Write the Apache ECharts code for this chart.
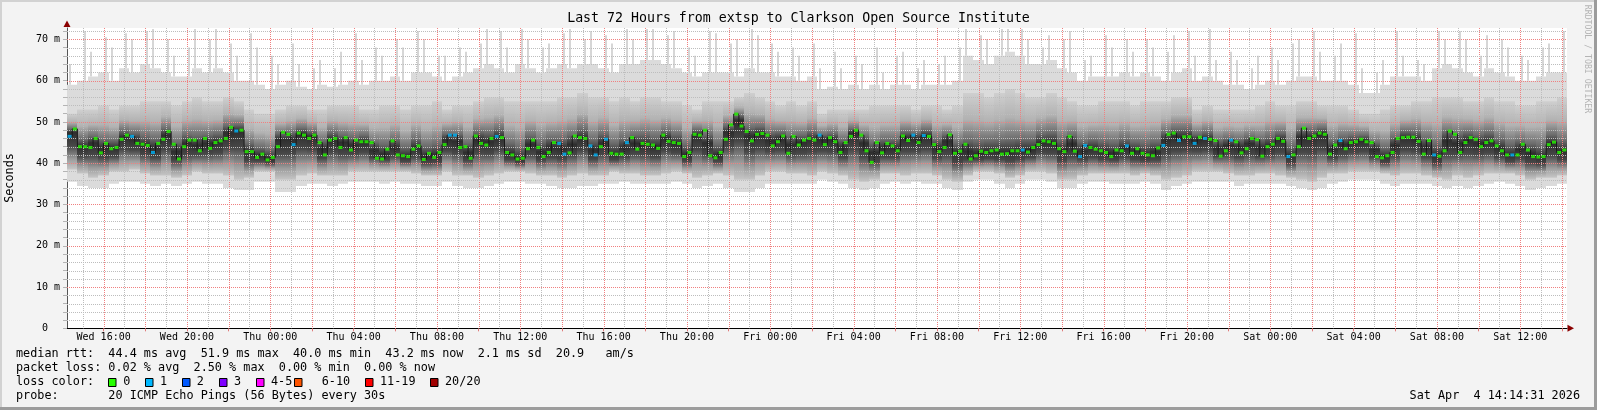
<!DOCTYPE html>
<html><head><meta charset="utf-8">
<script src="https://cdn.jsdelivr.net/npm/echarts@6/dist/echarts.min.js"></script>
<style>html,body{margin:0;padding:0;background:#f3f3f3}#c{width:1597px;height:410px}</style>
</head><body><div id="c"></div>
<script>
// ---------------- data ----------------
// time axis: hours since Wed 00:00; graph covers Wed 14:14:31 .. Sat 14:14:31
const START_H = 14 + 14 / 60 + 31 / 3600;
const SPAN_H = 72;
const SMOKE_STEP_H = 0.5;   // one smoke column per 30 min
const MEDIAN_STEP_H = 0.25; // one median sample per 15 min

const xLabelHours = [16, 20, 24, 28, 32, 36, 40, 44, 48, 52, 56, 60, 64, 68, 72, 76, 80, 84];
const xLabelText = ['Wed 16:00', 'Wed 20:00', 'Thu 00:00', 'Thu 04:00', 'Thu 08:00', 'Thu 12:00',
  'Thu 16:00', 'Thu 20:00', 'Fri 00:00', 'Fri 04:00', 'Fri 08:00', 'Fri 12:00',
  'Fri 16:00', 'Fri 20:00', 'Sat 00:00', 'Sat 04:00', 'Sat 08:00', 'Sat 12:00'];
const yLabelValues = [0, 10, 20, 30, 40, 50, 60, 70];

// median rtt (ms), 288 samples
const medianRtt = [
  46.5, 48.3, 44, 44, 43.8, 46, 42.5, 44.8, 43.5, 43.8,
  45.8, 46.8, 46.5, 44.8, 44.6, 44.3, 42.6, 44.8, 45.8, 47.7,
  44.6, 41, 44, 45.6, 45.6, 43, 46, 43.6, 45, 45.4,
  46, 48.7, 47.8, 48, 42.8, 42.8, 41.4, 42.2, 40.8, 41.4,
  44, 47.5, 47, 44.5, 47.3, 46.8, 46, 46.8, 45, 42,
  45.6, 46, 43.8, 46.2, 43.2, 45.6, 45.2, 45.2, 45, 41.2,
  41, 43.4, 45.4, 42, 41.8, 41.6, 43.4, 44.2, 40.9, 42.4,
  41.4, 42.6,
  44.5, 46.8, 46.8, 43.8, 44, 41.2, 46.6, 44.8, 44.4, 46,
  46.5, 46.2, 42.6, 42, 41, 41.2, 43.5, 45.6, 43.8, 41.6,
  42.6, 45, 44.8, 42.2, 42.5, 46.6, 46.2, 46, 44.2, 42,
  44, 45.8, 42.4, 42.2, 42.2, 45, 46.2, 43.4, 44.8, 44.6,
  44.4, 43.6, 46.8, 45.3, 45, 44.8, 41.6, 42.6, 47, 46.8,
  48, 41.8, 41.3, 42.6, 45.8, 49.3, 51.9, 49, 47.7, 45.4,
  47, 47.2, 46.8, 44.2, 45.2, 46.6, 42.4, 46.5, 44.4, 45.6,
  46, 45.6,
  46.8, 44.5, 46.2, 45.2, 42.6, 45, 46.5, 48, 46.8, 43,
  40.2, 45, 42.5, 44.8, 44.2, 43, 46.6, 45.5, 46.8, 45,
  46.7, 46.5, 44.5, 42.8, 43.8, 46.9, 42.4, 42.9, 44.6, 41,
  41.8, 42.9, 42.6, 43, 43.2, 42.2, 42.3, 43, 43, 43.2,
  42.7, 43.8, 44.5, 45.4, 45.2, 44.8, 43.5, 42.8, 46.5, 42.9,
  41.6, 44.3, 43.8, 43.4, 43, 42.6, 41.6, 43.2, 43, 44.2,
  42.4, 43.5, 42.4, 42, 41.8, 43.7, 44.3, 47, 47.3, 45.5,
  46.4, 46.4,
  44.8, 46.3, 46, 45.8, 45.5, 41.7, 43, 45.6, 45.2, 42.5,
  43.5, 46, 45.7, 41.7, 44, 44.6, 46, 45.3, 41.6, 42,
  44, 48.5, 46, 46.6, 47.3, 47, 42.2, 44.4, 45.5, 43.5,
  45, 45.2, 45.8, 45.2, 45, 41.6, 41.3, 41.8, 42.6, 46,
  46.2, 46.3, 46.3, 45.3, 42.2, 45.5, 42, 41.7, 43, 47.8,
  47, 42.6, 45, 46.2, 45.8, 44, 45, 45.4, 44.2, 43,
  42, 42, 42, 44.6, 43.2, 41.6, 41.5, 41.6, 44.5, 45.1,
  42.6, 43.2
];
// median samples that had 1 lost ping (all others: 0)
const lossSamples = [0, 12, 16, 32, 43, 73, 74, 82, 94, 95, 100, 101, 103, 107, 144, 162, 164,
  183, 194, 195, 203, 210, 213, 216, 218, 223, 234, 244, 262, 277];

// smoke per 30-min column (ms), 144 columns
const pingMax = [
  64, 72, 67, 70.5, 68, 71.5, 70, 72, 72.5, 70, 66, 68, 72.5, 70, 72.5, 69, 66, 71.5, 68, 66, 64, 69, 64, 63, 65, 63, 67, 71.5, 65, 68, 66, 70, 68, 72, 70, 66,
  66, 68, 67, 69, 72.5, 72, 68, 72.5, 70, 68, 69, 71.5, 72.5, 70, 72, 71, 69, 72.5, 70, 72.5, 72.5, 71, 72, 68, 66, 72, 71.5, 69, 70, 72.5, 71, 69, 67, 68, 66, 69,
  63, 67, 63, 66, 64, 68, 62, 66, 67, 63, 65, 64, 66, 68, 72.5, 71, 70, 72.5, 72.5, 72.5, 70, 68, 71, 70, 72, 65, 66, 71, 68, 70, 67, 70, 68, 67, 71, 72,
  66, 72.5, 65, 67, 65, 63, 66, 68, 65, 69, 70, 72, 67, 66, 69, 71.5, 63, 62, 65, 72, 66, 65, 64, 72, 70, 72, 70, 66, 71, 70, 68, 66, 65, 68, 69, 72
];
const smokeTop = [
  59, 60, 61, 62, 60, 63, 62, 64, 63, 62, 61, 61, 63, 62, 63, 62, 60, 60, 59, 58, 59, 60, 58.5, 58, 59, 58.5, 59, 60, 59, 60, 60, 61, 60, 62, 62, 61,
  60, 61, 62, 63, 64, 63, 62, 64, 63, 62, 63, 64, 63, 64, 64, 63, 62, 64, 64, 65, 65, 64, 63, 62, 61, 62, 62, 62, 61, 63, 62, 62, 61, 61, 60, 61,
  58, 58.5, 58, 59, 58, 59, 58, 59, 59, 58, 59, 59, 59, 60, 66, 65, 64, 66, 67, 66, 64, 64, 65, 63, 62, 60, 61, 61, 61, 62, 61, 62, 61, 60, 62, 63,
  60, 61, 60, 59, 59, 58, 59, 60, 59, 60, 61, 61, 60, 60, 60, 59, 57, 57, 59, 61, 61, 61, 60, 63, 64, 63, 62, 61, 63, 62, 61, 60, 60, 61, 62, 62
];
const smokeUpper = [
  52, 53, 53, 54, 53, 54, 54, 55, 55, 55, 54, 55, 56, 55, 55, 56, 55, 53, 52, 52, 53, 54, 54, 53, 53, 54, 54, 54, 53, 53, 54, 54, 53, 54, 54, 55,
  53, 54, 54, 55, 56, 56, 55, 55, 55, 55, 55, 56, 56, 57, 56, 56, 55, 56, 55, 56, 56, 55, 55, 54, 53, 55, 55, 55, 56, 57, 56, 55, 54, 55, 54, 55,
  52, 53, 53, 53, 53, 54, 54, 54, 54, 53, 54, 54, 53, 54, 57, 57, 56, 57, 58, 57, 56, 56, 57, 56, 55, 54, 54, 55, 55, 55, 54, 55, 55, 55, 56, 56,
  53, 54, 53, 53, 53, 53, 54, 55, 54, 54, 55, 55, 54, 54, 54, 53, 52, 52, 53, 54, 54, 55, 55, 56, 56, 56, 55, 55, 56, 55, 55, 54, 54, 55, 55, 56
];
const smokeLower = [
  38.5, 37.5, 36.5, 37, 38, 38, 38.5, 37.5, 37, 37, 36.5, 37, 38, 37.5, 37.5, 37, 36, 36.5, 38, 38, 36, 36, 37, 37.5, 37, 37, 37, 38, 38, 38, 38, 38, 38, 37.5, 37, 37,
  38, 37, 37, 36.5, 37, 37.5, 38, 38, 37.5, 37, 37, 36.5, 37, 37.5, 37, 37, 38, 37.5, 37.5, 37, 37, 37.5, 38, 37.5, 36.5, 37, 37.5, 37, 36, 36, 37, 38, 38, 37.5, 37.5, 37,
  38, 37.5, 37, 36, 35.5, 36, 37.5, 37.5, 37, 37.5, 37.5, 37, 36, 35.5, 37, 38, 38, 37.5, 36.5, 37, 38, 38, 37.5, 36, 36, 37, 37.5, 37.5, 37.5, 37.5, 37, 37.5, 37, 36, 36.5, 37,
  38, 38, 38, 37.5, 37, 37, 37.5, 37.5, 37, 36.5, 36, 35.5, 36.5, 37.5, 37.5, 38, 38, 38, 37.5, 37, 37.5, 37.5, 37, 36.5, 36, 37, 36.5, 37, 37.5, 37.5, 37.5, 37, 36, 36.5, 36.5, 37
];
const pingMin = [
  35.5, 34.5, 34, 34, 35, 35.5, 35.5, 35, 34.5, 35, 34.5, 35, 35.5, 35, 35, 34, 33.5, 33.5, 35.5, 35.5, 33, 33, 34.5, 35, 35, 34.5, 35, 35.5, 35.5, 35.5, 35, 35.5, 35, 35, 34.5, 34.5,
  35.5, 34.5, 34, 34, 34.5, 35, 35.5, 35.5, 35, 35, 34.5, 34, 34, 34.5, 34.5, 35, 35, 35.5, 35, 35, 35, 35, 35.5, 35, 34, 34.5, 35, 34, 33, 33, 34, 35, 35, 35, 35, 35,
  36, 35.5, 35, 34, 33.5, 34, 35, 35.5, 35, 35.5, 35, 35, 34, 33.5, 35.5, 36, 36, 35, 34, 35, 36, 36, 35.5, 34, 34, 35, 35.5, 35.5, 35, 35, 35, 35.5, 35, 33.5, 34.5, 35,
  35.5, 35.5, 35.5, 35.5, 34.5, 35, 35, 35, 35, 34.5, 34, 33.5, 34, 35, 35.5, 36, 36, 36, 35, 34.5, 35, 35, 35, 34.5, 34, 34.5, 34, 34.5, 35, 35.5, 35, 34.5, 33.5, 34, 34.5, 35
];

const legendLossLabels = ['0', '1', '2', '3', '4-5', '6-10', '11-19', '20/20'];
const lossColors = ['#26ff00', '#00b8ff', '#0059ff', '#7e00ff', '#ff00ff', '#ff5500', '#ff0000', '#a10000'];

const statLines = [
  'median rtt:  44.4 ms avg  51.9 ms max  40.0 ms min  43.2 ms now  2.1 ms sd  20.9   am/s',
  'packet loss: 0.02 % avg  2.50 % max  0.00 % min  0.00 % now',
  'loss color:',
  'probe:       20 ICMP Echo Pings (56 Bytes) every 30s'
];
const titleText = 'Last 72 Hours from extsp to Clarkson Open Source Institute';
const dateText = 'Sat Apr  4 14:14:31 2026';

// ---------------- chart ----------------
const END_H = START_H + SPAN_H;
const MONO = "'DejaVu Sans Mono', monospace";
const chart = echarts.init(document.getElementById('c'), null, { renderer: 'canvas', width: 1597, height: 410 });

const smokeData = pingMax.map((mx, i) => [
  START_H + i * SMOKE_STEP_H, START_H + (i + 1) * SMOKE_STEP_H,
  mx, smokeTop[i], smokeUpper[i], smokeLower[i], pingMin[i],
  (medianRtt[2 * i] + medianRtt[2 * i + 1]) / 2, i
]);
const medData = medianRtt.map((v, i) => [START_H + (i + 0.5) * MEDIAN_STEP_H, v, lossSamples.indexOf(i) >= 0 ? 1 : 0]);

function renderSmoke(params, api) {
  const t0 = api.value(0), t1 = api.value(1);
  const x0 = Math.round(api.coord([t0, 0])[0]);
  const x1 = Math.round(api.coord([t1, 0])[0]);
  const y = v => api.coord([t0, v])[1];
  const yMax = y(api.value(2)), yTop = y(api.value(3)), yUp = y(api.value(4));
  const yDn = y(api.value(5)), yBot = y(api.value(6)), yMed = y(api.value(7));
  let f = (yMed - yUp) / (yDn - yUp);
  f = Math.min(0.9, Math.max(0.1, f));
  const grad = new echarts.graphic.LinearGradient(0, 0, 0, 1, [
    { offset: 0, color: '#cfcfcf' },
    { offset: f * 0.45, color: '#b2b2b2' },
    { offset: f * 0.8, color: '#6c6c6c' },
    { offset: f, color: '#2e2e2e' },
    { offset: f + (1 - f) * 0.35, color: '#474747' },
    { offset: f + (1 - f) * 0.72, color: '#9c9c9c' },
    { offset: 1, color: '#c6c6c6' }
  ]);
  // spike sits alternately in the left / right part of its column
  const idx = api.value(8);
  const xs = idx % 2 === 0 ? x0 + 2 : x1 - 4;
  return {
    type: 'group',
    children: [
      { type: 'rect', shape: { x: xs, y: yMax, width: 2, height: yTop - yMax }, style: { fill: '#d6d6d6' } },
      { type: 'rect', shape: { x: x0, y: yTop, width: x1 - x0, height: yBot - yTop }, style: { fill: '#dbdbdb' } },
      { type: 'rect', shape: { x: x0, y: yUp, width: x1 - x0, height: yDn - yUp }, style: { fill: grad } }
    ]
  };
}

// grid lines, drawn crisp and dotted over the smoke (as rrdtool does)
const MAJOR = '#f08080', MINOR = '#bdbdbd';
const vGridHours = [];
for (let h = Math.ceil(START_H); h <= END_H; h++) vGridHours.push([h, 0]);
const hGridValues = [];
for (let v = 2; v <= 72; v += 2) hGridValues.push([START_H, v]);

function renderVGrid(params, api) {
  const cs = params.coordSys;
  const h = api.value(0);
  const x = Math.round(api.coord([h, 0])[0]) + 0.5;
  return { type: 'line', shape: { x1: x, y1: cs.y, x2: x, y2: cs.y + cs.height },
    style: { stroke: h % 2 === 0 ? MAJOR : MINOR, lineWidth: 1, lineDash: [1, 1] } };
}
function renderHGrid(params, api) {
  const cs = params.coordSys;
  const v = api.value(1);
  const y = Math.round(api.coord([START_H, v])[1]) + 0.5;
  return { type: 'line', shape: { x1: cs.x, y1: y, x2: cs.x + cs.width, y2: y },
    style: { stroke: v % 10 === 0 ? MAJOR : MINOR, lineWidth: 1, lineDash: [1, 1] } };
}

const evenHours = [];
for (let h = Math.ceil(START_H); h <= END_H; h++) if (h % 2 === 0) evenHours.push(h);
const yTickVals = [];
for (let v = 0; v <= 72; v += 2) yTickVals.push(v);

const TXT = '11.8px ' + MONO;
const textStyle = (x, y, text, extra) => ({
  type: 'text', x: x, y: y, silent: true,
  style: Object.assign({ text: text, font: TXT, fill: '#000', align: 'left', verticalAlign: 'middle' }, extra || {})
});

const graphics = [
  { type: 'rect', shape: { x: 0, y: 0, width: 1597, height: 2 }, style: { fill: '#d2d2d2' }, silent: true },
  { type: 'rect', shape: { x: 0, y: 0, width: 2, height: 410 }, style: { fill: '#d2d2d2' }, silent: true },
  { type: 'rect', shape: { x: 0, y: 407, width: 1597, height: 3 }, style: { fill: '#9c9c9c' }, silent: true },
  { type: 'rect', shape: { x: 1594, y: 0, width: 3, height: 410 }, style: { fill: '#9c9c9c' }, silent: true },
  { type: 'polygon', shape: { points: [[63.5, 27], [70.5, 27], [67, 20.5]] }, style: { fill: '#8b0000' }, silent: true },
  { type: 'polygon', shape: { points: [[1567.5, 324.8], [1567.5, 331.8], [1574, 328.3]] }, style: { fill: '#8b0000' }, silent: true },
  textStyle(798.5, 19, titleText, { font: '13.25px ' + MONO, align: 'center' }),
  Object.assign(textStyle(10, 178, 'Seconds', { align: 'center' }), { rotation: Math.PI / 2 }),
  Object.assign(textStyle(1587, 59, 'RRDTOOL / TOBI OETIKER', { align: 'center', font: '8.2px ' + MONO, fill: '#b4b4b4' }), { rotation: -Math.PI / 2 }),
  textStyle(16, 354, statLines[0]),
  textStyle(16, 368.3, statLines[1]),
  textStyle(16, 382, statLines[2]),
  textStyle(16, 396, statLines[3]),
  textStyle(1580, 396, dateText, { align: 'right' })
];
const boxX = [108.3, 145, 182.3, 219.3, 256, 294.3, 365.3, 430];
const labX = [123.3, 160, 196.7, 234, 271, 321.7, 380, 445];
legendLossLabels.forEach((lab, i) => {
  graphics.push({ type: 'rect', silent: true, shape: { x: Math.round(boxX[i]) + 0.5, y: 378.5, width: 7.5, height: 8 }, style: { fill: lossColors[i], stroke: '#000', lineWidth: 1 } });
  graphics.push(textStyle(labX[i], 382, lab));
});

chart.setOption({
  animation: false,
  backgroundColor: '#f3f3f3',
  grid: { left: 67, right: 30, top: 28, bottom: 81.67, show: true, backgroundColor: '#ffffff', borderWidth: 0, containLabel: false, outerBoundsMode: 'none' },
  xAxis: {
    type: 'value', min: START_H, max: END_H,
    axisLine: { show: true, lineStyle: { color: '#000', width: 1 } },
    axisTick: { show: true, customValues: evenHours, length: 3, lineStyle: { color: '#e07a7a' } },
    splitLine: { show: false },
    axisLabel: {
      customValues: xLabelHours, margin: 4, fontFamily: MONO, fontSize: 10, color: '#000',
      formatter: v => { const i = xLabelHours.indexOf(Math.round(v)); return i >= 0 ? xLabelText[i] : ''; }
    }
  },
  yAxis: {
    type: 'value', min: 0, max: 72.75,
    axisLine: { show: true, lineStyle: { color: '#555', width: 1 } },
    axisTick: { show: true, customValues: yTickVals, length: 4, lineStyle: { color: '#b4b4b4' } },
    splitLine: { show: false },
    axisLabel: {
      customValues: yLabelValues, margin: 7, fontFamily: MONO, fontSize: 10, color: '#000',
      formatter: v => (v === 0 ? '0  ' : (v % 10 === 0 && v <= 70 ? v + ' m' : ''))
    }
  },
  series: [
    {
      type: 'custom', name: 'smoke', z: 1, silent: true, clip: true,
      renderItem: renderSmoke, data: smokeData,
      encode: { x: [0, 1], y: [2, 3, 4, 5, 6, 7] }
    },
    { type: 'custom', name: 'vgrid', z: 2, silent: true, renderItem: renderVGrid, data: vGridHours, encode: { x: 0, y: 1 } },
    { type: 'custom', name: 'hgrid', z: 2, silent: true, renderItem: renderHGrid, data: hGridValues, encode: { x: 0, y: 1 } },
    {
      type: 'line', name: 'median', z: 3, silent: true, step: 'middle', showSymbol: false,
      data: medData, encode: { x: 0, y: 1 },
      lineStyle: { color: '#1a1a1a', width: 1 }
    },
    {
      type: 'scatter', name: 'median dots', z: 4, silent: true, symbol: 'rect', symbolSize: [4, 3],
      data: medData, encode: { x: 0, y: 1 },
      itemStyle: { color: p => lossColors[p.data[2]] }
    }
  ],
  graphic: graphics
});
</script></body></html>
